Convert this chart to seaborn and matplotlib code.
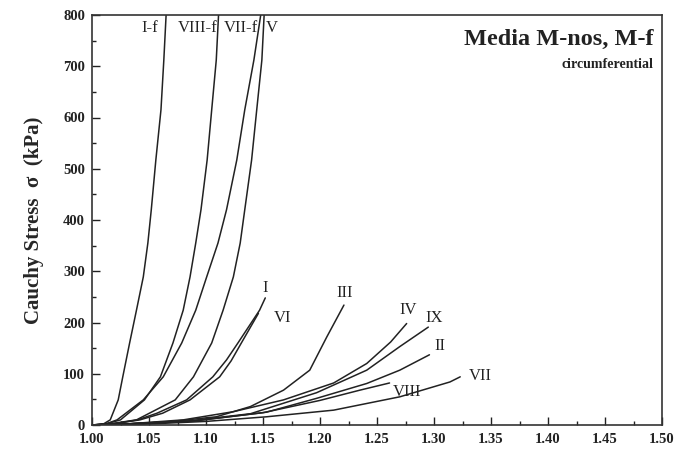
import matplotlib
matplotlib.use("Agg")
import matplotlib.pyplot as plt
import seaborn as sns
import pandas as pd
from matplotlib.ticker import MultipleLocator

# ---- data (stretch, Cauchy stress kPa) ----
curve_names = ["I-f", "VIII-f", "VII-f", "V", "I", "VI", "III", "IV", "IX", "II", "VIII", "VII"]

x_If = [1.000, 1.010, 1.016, 1.023, 1.027, 1.033, 1.039, 1.045, 1.049, 1.052, 1.056, 1.0605, 1.063, 1.065]
y_If = [0, 2, 10, 49, 94, 160, 224, 289, 355, 420, 517, 615, 712, 800]

x_VIIIf = [1.000, 1.012, 1.025, 1.046, 1.060, 1.071, 1.080, 1.086, 1.091, 1.0956, 1.101, 1.105, 1.109, 1.111]
y_VIIIf = [0, 2, 10, 49, 94, 160, 224, 289, 355, 420, 517, 615, 712, 800]

x_VIIf = [1.000, 1.012, 1.022, 1.045, 1.0625, 1.0787, 1.091, 1.1006, 1.1105, 1.118, 1.127, 1.134, 1.142, 1.148]
y_VIIf = [0, 2, 10, 49, 94, 160, 224, 289, 355, 420, 517, 615, 712, 800]

x_V = [1.000, 1.015, 1.039, 1.073, 1.089, 1.105, 1.115, 1.124, 1.130, 1.134, 1.140, 1.1445, 1.149, 1.151]
y_V = [0, 2, 10, 49, 94, 160, 224, 289, 355, 420, 517, 615, 712, 800]

x_I = [1.000, 1.018, 1.040, 1.057, 1.083, 1.106, 1.118, 1.128, 1.147, 1.152]
y_I = [0, 2, 10, 23, 49, 94, 127, 160, 224, 248]

x_VI = [1.000, 1.018, 1.042, 1.062, 1.086, 1.112, 1.122, 1.131, 1.146]
y_VI = [0, 2, 10, 23, 49, 94, 125, 160, 218]

x_III = [1.000, 1.030, 1.070, 1.109, 1.139, 1.168, 1.191, 1.206, 1.221]
y_III = [0, 2, 7, 16, 36, 68, 107, 172, 234]

x_IV = [1.000, 1.030, 1.080, 1.124, 1.168, 1.212, 1.241, 1.262, 1.276]
y_IV = [0, 2, 10, 26, 49, 82, 120, 162, 198]

x_IX = [1.000, 1.030, 1.085, 1.139, 1.197, 1.241, 1.270, 1.295]
y_IX = [0, 2, 8, 22, 63, 107, 153, 191]

x_II = [1.000, 1.030, 1.090, 1.153, 1.197, 1.241, 1.270, 1.296]
y_II = [0, 2, 8, 25, 52, 81, 107, 137]

x_VIII = [1.000, 1.030, 1.090, 1.150, 1.200, 1.235, 1.261]
y_VIII = [0, 2, 8, 24, 48, 68, 82]

x_VII = [1.000, 1.040, 1.100, 1.153, 1.212, 1.270, 1.314, 1.323]
y_VII = [0, 1, 7, 16, 29, 55, 84, 94]

xs = [x_If, x_VIIIf, x_VIIf, x_V, x_I, x_VI, x_III, x_IV, x_IX, x_II, x_VIII, x_VII]
ys = [y_If, y_VIIIf, y_VIIf, y_V, y_I, y_VI, y_III, y_IV, y_IX, y_II, y_VIII, y_VII]

# label positions (data coords)
label_pos = {
    "I-f": (1.051, 775), "VIII-f": (1.093, 775), "VII-f": (1.131, 775), "V": (1.158, 775),
    "I": (1.152, 267), "VI": (1.167, 209), "III": (1.222, 258), "IV": (1.277, 224),
    "IX": (1.300, 209), "II": (1.305, 154), "VIII": (1.276, 64), "VII": (1.341, 96),
}

x_ticks = [1.00, 1.05, 1.10, 1.15, 1.20, 1.25, 1.30, 1.35, 1.40, 1.45, 1.50]
y_ticks = [0, 100, 200, 300, 400, 500, 600, 700, 800]

rows = []
for name, xx, yy in zip(curve_names, xs, ys):
    for order, (a, b) in enumerate(zip(xx, yy)):
        rows.append({"curve": name, "stretch": a, "stress": b, "order": order})
df = pd.DataFrame(rows)

sns.set_style("ticks")
plt.rcParams["font.family"] = ["Liberation Serif", "DejaVu Serif"]

fig = plt.figure(figsize=(6.74, 4.55), dpi=100)
ax = fig.add_axes([92 / 674, 1 - 425 / 455, 570 / 674, 410 / 455])

sns.lineplot(data=df, x="stretch", y="stress", hue="curve", units="curve", estimator=None,
             sort=False, palette=["#222222"] * len(curve_names), linewidth=1.1,
             legend=False, ax=ax)

ax.set_xlim(1.00, 1.50)
ax.set_ylim(0, 800)
ax.set_xticks(x_ticks)
ax.set_yticks(y_ticks)
ax.set_xticklabels([f"{t:.2f}" for t in x_ticks], fontweight="bold", fontsize=10.5)
ax.set_yticklabels([str(t) for t in y_ticks], fontweight="bold", fontsize=10.5)
ax.xaxis.set_minor_locator(MultipleLocator(0.025))
ax.yaxis.set_minor_locator(MultipleLocator(50))
ax.tick_params(axis="both", which="major", direction="in", length=6, width=1, colors="#222222")
ax.tick_params(axis="both", which="minor", direction="in", length=3, width=1, colors="#222222")
ax.tick_params(axis="both", which="both", top=False, right=False)
ax.tick_params(axis="y", pad=5)
ax.tick_params(axis="x", pad=6)
for s in ax.spines.values():
    s.set_color("#333333")
    s.set_linewidth(1.2)

ax.set_xlabel("")
ax.set_ylabel("Cauchy Stress  σ  (kPa)", fontsize=15, fontweight="bold", labelpad=14)

for name in curve_names:
    px, py = label_pos[name]
    ax.text(px, py, name, fontsize=12, ha="center", va="center", color="#222222")

ax.text(0.985, 0.965, "Media M-nos, M-f", transform=ax.transAxes, ha="right", va="top",
        fontsize=17.5, fontweight="bold", color="#222222")
ax.text(0.985, 0.895, "circumferential", transform=ax.transAxes, ha="right", va="top",
        fontsize=10, fontweight="bold", color="#222222")

fig.savefig("out.png", dpi=100, facecolor="white")
